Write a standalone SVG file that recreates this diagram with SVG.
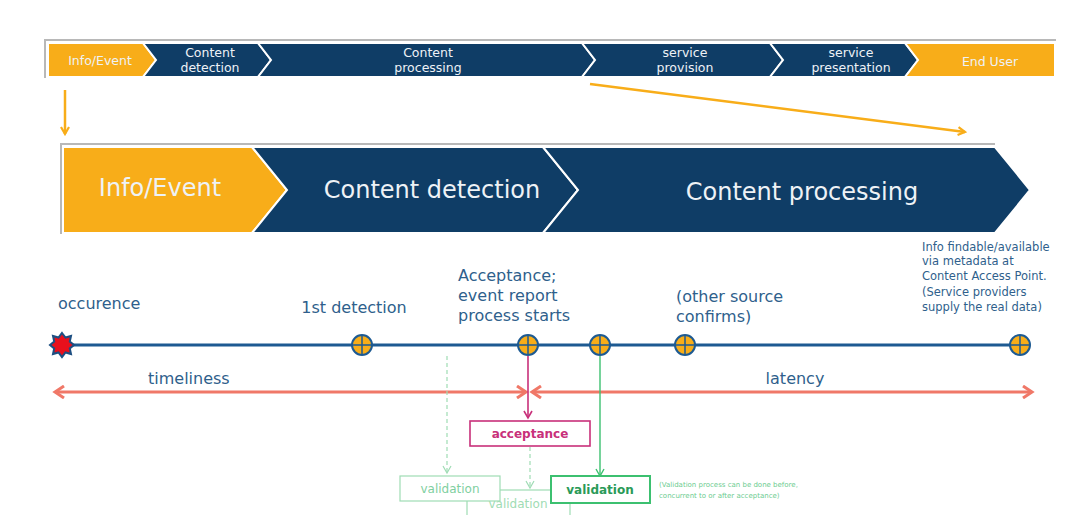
<svg xmlns="http://www.w3.org/2000/svg" width="1083" height="515" viewBox="0 0 1083 515">
<style>
.or{fill:#f8ad19;stroke:#fff;stroke-width:2}
.bl{fill:#0f3d66;stroke:#fff;stroke-width:2}
.tb{font-family:"DejaVu Sans",Verdana,sans-serif;font-size:12.5px;fill:#eef2f6;text-anchor:middle}
.bb{font-family:"DejaVu Sans",Verdana,sans-serif;font-size:24px;fill:#eef2f6;text-anchor:middle}
.lb{font-family:"DejaVu Sans",Verdana,sans-serif;font-size:16px;fill:#2f5f8c}
.sm{font-family:"DejaVu Sans",Verdana,sans-serif;font-size:11.5px;fill:#2f5f8c}
.ms{fill:#f8ad19;stroke:#1d5a92;stroke-width:2}
.cr{stroke:#1d5a92;stroke-width:1.5}
.red{stroke:#f07868;stroke-width:3;fill:none}
.gd{stroke:#9fdcb4;stroke-width:1.2;stroke-dasharray:4 3;fill:none}
.vt{font-family:"DejaVu Sans",Verdana,sans-serif;font-size:12px;text-anchor:middle}
</style>
<defs>
<marker id="ay" markerWidth="10" markerHeight="10" refX="8" refY="5" orient="auto" markerUnits="userSpaceOnUse"><path d="M1,1 L8,5 L1,9" fill="none" stroke="#f8ad19" stroke-width="2.2"/></marker>
<marker id="ar" markerWidth="14" markerHeight="14" refX="11" refY="7" orient="auto-start-reverse" markerUnits="userSpaceOnUse"><path d="M2,1 L11,7 L2,13" fill="none" stroke="#f07868" stroke-width="3"/></marker>
<marker id="am" markerWidth="10" markerHeight="10" refX="8" refY="5" orient="auto" markerUnits="userSpaceOnUse"><path d="M1,1 L8,5 L1,9" fill="none" stroke="#c8307a" stroke-width="1.6"/></marker>
<marker id="ag" markerWidth="10" markerHeight="10" refX="8" refY="5" orient="auto" markerUnits="userSpaceOnUse"><path d="M1,1 L8,5 L1,9" fill="none" stroke="#3cc070" stroke-width="1.4"/></marker>
<marker id="agl" markerWidth="10" markerHeight="10" refX="8" refY="5" orient="auto" markerUnits="userSpaceOnUse"><path d="M1,1 L8,5 L1,9" fill="none" stroke="#9fdcb4" stroke-width="1.2"/></marker>
</defs>
<rect width="1083" height="515" fill="#fff"/>

<!-- top bar frame -->
<path d="M45,78 L45,40 L1056,40" fill="none" stroke="#b8b8b8" stroke-width="2"/>
<g id="top-info"><polygon class="or" points="48,43 143,43 156,60 143,77 48,77"/><text class="tb" x="100" y="65">Info/Event</text></g>
<g id="top-detection"><polygon class="bl" points="143,43 258,43 271,60 258,77 143,77 156,60"/><text class="tb" x="210" y="57">Content</text><text class="tb" x="210" y="72">detection</text></g>
<g id="top-processing"><polygon class="bl" points="258,43 582,43 595,60 582,77 258,77 271,60"/><text class="tb" x="428" y="57">Content</text><text class="tb" x="428" y="72">processing</text></g>
<g id="top-provision"><polygon class="bl" points="582,43 770,43 783,60 770,77 582,77 595,60"/><text class="tb" x="685" y="57">service</text><text class="tb" x="685" y="72">provision</text></g>
<g id="top-presentation"><polygon class="bl" points="770,43 905,43 918,60 905,77 770,77 783,60"/><text class="tb" x="851" y="57">service</text><text class="tb" x="851" y="72">presentation</text></g>
<g id="top-enduser"><polygon class="or" points="905,43 1055,43 1055,77 905,77 918,60"/><text class="tb" x="990" y="66">End User</text></g>

<!-- big bar frame -->
<path d="M61,234 L61,144 L995,144" fill="none" stroke="#b8b8b8" stroke-width="2"/>
<g id="big-info"><polygon class="or" points="63,147 252,147 287,190 252,233 63,233"/><text class="bb" x="160" y="196">Info/Event</text></g>
<g id="big-detection"><polygon class="bl" points="252,147 543,147 578,190 543,233 252,233 287,190"/><text class="bb" x="432" y="198">Content detection</text></g>
<g id="big-processing"><polygon class="bl" points="543,147 995,147 1030,190 995,233 543,233 578,190"/><text class="bb" x="802" y="200">Content processing</text></g>

<g id="connectors">
<line x1="65" y1="90" x2="65" y2="134" stroke="#f8ad19" stroke-width="2.5" marker-end="url(#ay)"/>
<line x1="590" y1="84" x2="965" y2="132" stroke="#f8ad19" stroke-width="2.5" marker-end="url(#ay)"/>
<line x1="62" y1="345" x2="1020" y2="345" stroke="#1d5a92" stroke-width="3"/>
<line class="red" x1="55" y1="392" x2="526" y2="392" marker-start="url(#ar)" marker-end="url(#ar)"/>
<line class="red" x1="532" y1="392" x2="1032" y2="392" marker-start="url(#ar)" marker-end="url(#ar)"/>
<line x1="528" y1="356" x2="528" y2="418" stroke="#c8307a" stroke-width="1.6" marker-end="url(#am)"/>
<line class="gd" x1="447" y1="356" x2="447" y2="473" marker-end="url(#agl)"/>
<line class="gd" x1="530" y1="447" x2="530" y2="488" marker-end="url(#agl)"/>
<line x1="600" y1="356" x2="600" y2="476" stroke="#3cc070" stroke-width="1.4" marker-end="url(#ag)"/>
</g>

<g id="occurence">
<polygon points="62,333 65.5,337.5 71,336 69.8,341.5 74,345 69.8,348.5 71,354 65.5,352.5 62,357 58.5,352.5 53,354 54.2,348.5 50,345 54.2,341.5 53,336 58.5,337.5" fill="#e8101c" stroke="#1d4f82" stroke-width="2"/>
<text class="lb" x="58" y="309" font-size="14.5px">occurence</text>
</g>
<g id="m-detection"><circle class="ms" cx="362" cy="345" r="10"/><line class="cr" x1="352" y1="345" x2="372" y2="345"/><line class="cr" x1="362" y1="335" x2="362" y2="355"/><text class="lb" x="354" y="313" text-anchor="middle">1st detection</text></g>
<g id="m-acceptance"><circle class="ms" cx="528" cy="345" r="10"/><line class="cr" x1="518" y1="345" x2="538" y2="345"/><line class="cr" x1="528" y1="335" x2="528" y2="355"/>
<text class="lb" x="458" y="281" font-size="17px">Acceptance;</text><text class="lb" x="458" y="301" font-size="17px">event report</text><text class="lb" x="458" y="321" font-size="17px">process starts</text></g>
<g id="m-600"><circle class="ms" cx="600" cy="345" r="10"/><line class="cr" x1="590" y1="345" x2="610" y2="345"/><line class="cr" x1="600" y1="335" x2="600" y2="355"/></g>
<g id="m-other"><circle class="ms" cx="685" cy="345" r="10"/><line class="cr" x1="675" y1="345" x2="695" y2="345"/><line class="cr" x1="685" y1="335" x2="685" y2="355"/>
<text class="lb" x="676" y="302" font-size="17px">(other source</text><text class="lb" x="676" y="322" font-size="17px">confirms)</text></g>
<g id="m-findable"><circle class="ms" cx="1020" cy="345" r="10"/><line class="cr" x1="1010" y1="345" x2="1030" y2="345"/><line class="cr" x1="1020" y1="335" x2="1020" y2="355"/>
<text class="sm" x="922" y="251">Info findable/available</text><text class="sm" x="922" y="265">via metadata at</text><text class="sm" x="922" y="280">Content Access Point.</text><text class="sm" x="922" y="296">(Service providers</text><text class="sm" x="922" y="311">supply the real data)</text></g>

<text class="lb" x="148" y="384">timeliness</text>
<text class="lb" x="795" y="384" text-anchor="middle">latency</text>

<g id="acceptance"><rect x="470" y="421" width="120" height="25" fill="#fff" stroke="#c8307a" stroke-width="1.6"/><text class="vt" x="530" y="438" fill="#c8307a" font-weight="bold">acceptance</text></g>
<g id="validation-2"><rect x="467" y="490" width="103" height="26" fill="#fff" stroke="#9fdcb4" stroke-width="1.2"/><text class="vt" x="518" y="508" fill="#9fdcb4">validation</text></g>
<g id="validation-1"><rect x="400" y="476" width="100" height="25" fill="#fff" stroke="#9fdcb4" stroke-width="1.2"/><text class="vt" x="450" y="493" fill="#7fcf9f">validation</text></g>
<g id="validation-3"><rect x="551" y="476" width="99" height="27" fill="#fff" stroke="#3cc070" stroke-width="2"/><text class="vt" x="600" y="494" fill="#2a9a58" font-weight="bold">validation</text></g>
<text font-family="'DejaVu Sans',Verdana,sans-serif" font-size="7px" fill="#6ccc90" x="659" y="487">(Validation process can be done before,</text>
<text font-family="'DejaVu Sans',Verdana,sans-serif" font-size="7px" fill="#6ccc90" x="659" y="498">concurrent to or after acceptance)</text>
</svg>
